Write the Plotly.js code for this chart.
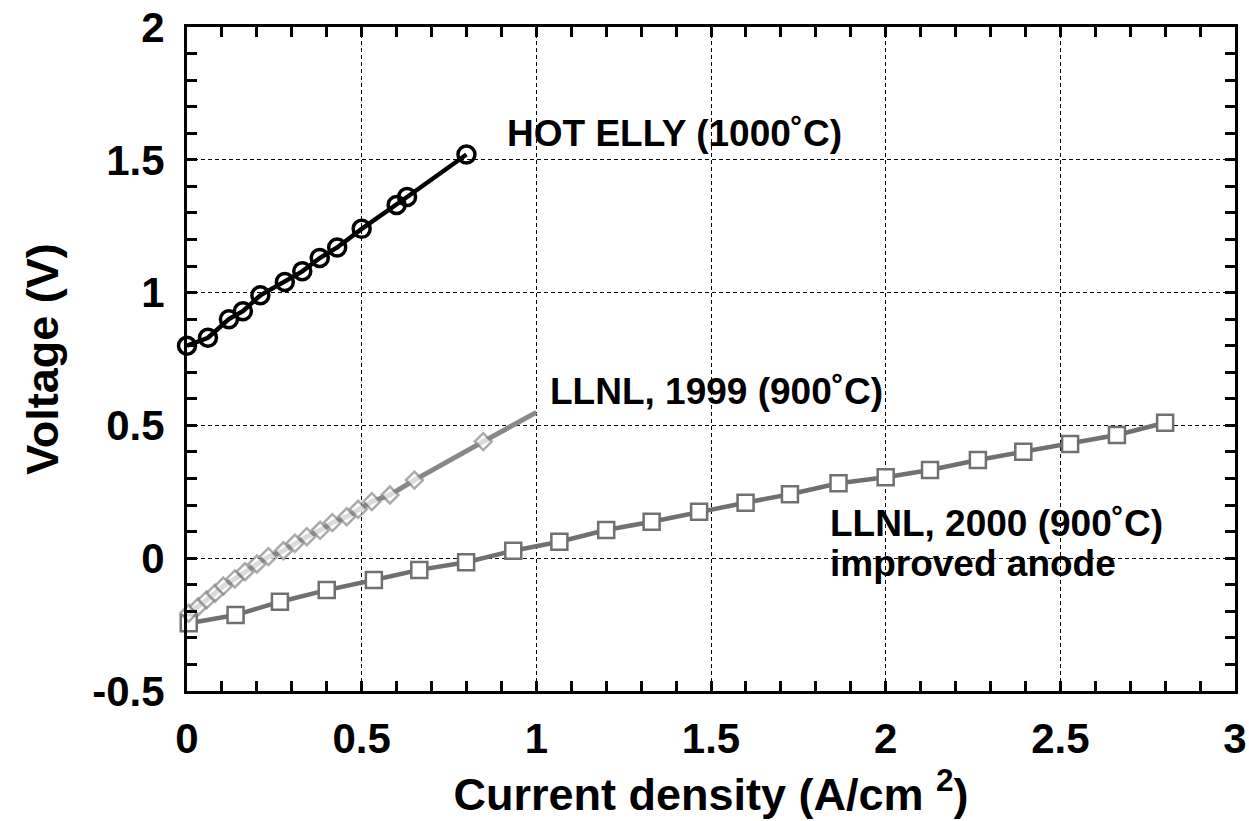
<!DOCTYPE html>
<html>
<head>
<meta charset="utf-8">
<script src="https://cdn.plot.ly/plotly-3.0.1.min.js"></script>
<style>
html,body{margin:0;padding:0;background:#fff;}
#chart{width:1249px;height:821px;}
</style>
</head>
<body>
<div id="chart"></div>
<script>
// HOT ELLY (1000˚C)
const hotEllyX = [0, 0.06, 0.12, 0.16, 0.21, 0.28, 0.33, 0.38, 0.43, 0.50, 0.60, 0.63, 0.80];
const hotEllyY = [0.80, 0.83, 0.90, 0.93, 0.99, 1.04, 1.08, 1.13, 1.17, 1.24, 1.33, 1.36, 1.52];

// LLNL, 1999 (900˚C)
const llnl1999X = [0.005, 0.032, 0.056, 0.080, 0.104, 0.137, 0.166, 0.200, 0.233, 0.276, 0.309, 0.343, 0.381, 0.416, 0.457, 0.490, 0.529, 0.581, 0.651, 0.848, 1.0];
const llnl1999Y = [-0.207, -0.183, -0.157, -0.132, -0.105, -0.078, -0.051, -0.022, 0.006, 0.028, 0.056, 0.081, 0.105, 0.134, 0.156, 0.184, 0.213, 0.238, 0.294, 0.439, 0.549];

// LLNL, 2000 (900˚C) improved anode
const llnl2000X = [0.005, 0.139, 0.266, 0.400, 0.535, 0.665, 0.799, 0.934, 1.066, 1.200, 1.330, 1.466, 1.599, 1.726, 1.865, 2.000, 2.127, 2.264, 2.394, 2.528, 2.662, 2.800];
const llnl2000Y = [-0.245, -0.214, -0.164, -0.120, -0.082, -0.044, -0.015, 0.028, 0.062, 0.106, 0.137, 0.175, 0.209, 0.241, 0.282, 0.305, 0.332, 0.370, 0.401, 0.430, 0.464, 0.510];

const xTickVals = [0, 0.5, 1, 1.5, 2, 2.5, 3];
const xTickText = ['0', '0.5', '1', '1.5', '2', '2.5', '3'];
const yTickVals = [-0.5, 0, 0.5, 1, 1.5, 2];
const yTickText = ['-0.5', '0', '0.5', '1', '1.5', '2'];

const labels = [
  {text: 'HOT ELLY (1000˚C)', x: 0.91, y: 1.60},
  {text: 'LLNL, 1999 (900˚C)', x: 1.034, y: 0.627},
  {text: 'LLNL, 2000 (900˚C)', x: 1.835, y: 0.13},
  {text: 'improved anode', x: 1.835, y: -0.02}
];

const FONT = 'Liberation Sans, Arial, sans-serif';
const X_RANGE = [0, 3];
const Y_RANGE = [-0.5, 2];

const traces = [
  {
    x: llnl2000X, y: llnl2000Y, mode: 'lines+markers', type: 'scatter',
    line: {color: '#707070', width: 4.5},
    marker: {symbol: 'square', size: 16, color: '#ffffff', line: {color: '#707070', width: 2.5}},
    cliponaxis: false
  },
  {
    x: llnl1999X, y: llnl1999Y, mode: 'lines+markers', type: 'scatter',
    line: {color: '#888888', width: 5},
    marker: {symbol: 'diamond', size: llnl1999X.map((_, i) => i === llnl1999X.length - 1 ? 0 : 13),
             color: '#ffffff', line: {color: '#888888', width: 2.5}},
    cliponaxis: false
  },
  {
    x: hotEllyX, y: hotEllyY, mode: 'lines+markers', type: 'scatter',
    line: {color: '#000000', width: 4.5},
    marker: {symbol: 'circle-open', size: 17, color: '#000000', line: {color: '#000000', width: 3.5}},
    cliponaxis: false
  }
];

function axis(range, vals, text, standoff, title, titleStandoff) {
  return {
    range: range, tickmode: 'array', tickvals: vals,
    ticktext: text.map(t => '<b>' + t + '</b>'),
    showline: true, linecolor: '#000', linewidth: 3, mirror: 'allticks',
    ticks: 'inside', ticklen: 10, tickwidth: 2.5, tickcolor: '#000',
    minor: {ticks: 'inside', dtick: 0.1, tick0: 0, ticklen: 10, tickwidth: 2.5, tickcolor: '#000', showgrid: false},
    showgrid: true, gridcolor: '#000', gridwidth: 1, griddash: '4px,3px',
    zeroline: false, ticklabelstandoff: standoff,
    tickfont: {family: FONT, size: 42, color: '#000'},
    title: {text: '<b>' + title + '</b>', font: {family: FONT, size: 45, color: '#000'}, standoff: titleStandoff}
  };
}

const layout = {
  width: 1249, height: 821,
  margin: {l: 187, r: 14, t: 27, b: 130},
  paper_bgcolor: '#fff', plot_bgcolor: '#fff',
  showlegend: false,
  font: {family: FONT, color: '#000'},
  xaxis: axis(X_RANGE, xTickVals, xTickText, 9, 'Current density (A/cm <sup>2</sup>)', 12),
  yaxis: axis(Y_RANGE, yTickVals, yTickText, 11, 'Voltage (V)', 20),
  annotations: labels.map(l => ({
    text: '<b>' + l.text + '</b>', x: l.x, y: l.y, xref: 'x', yref: 'y',
    xanchor: 'left', yanchor: 'middle', showarrow: false,
    font: {family: FONT, size: 37, color: '#000'}
  }))
};

Plotly.newPlot('chart', traces, layout, {displayModeBar: false});
</script>
</body>
</html>
